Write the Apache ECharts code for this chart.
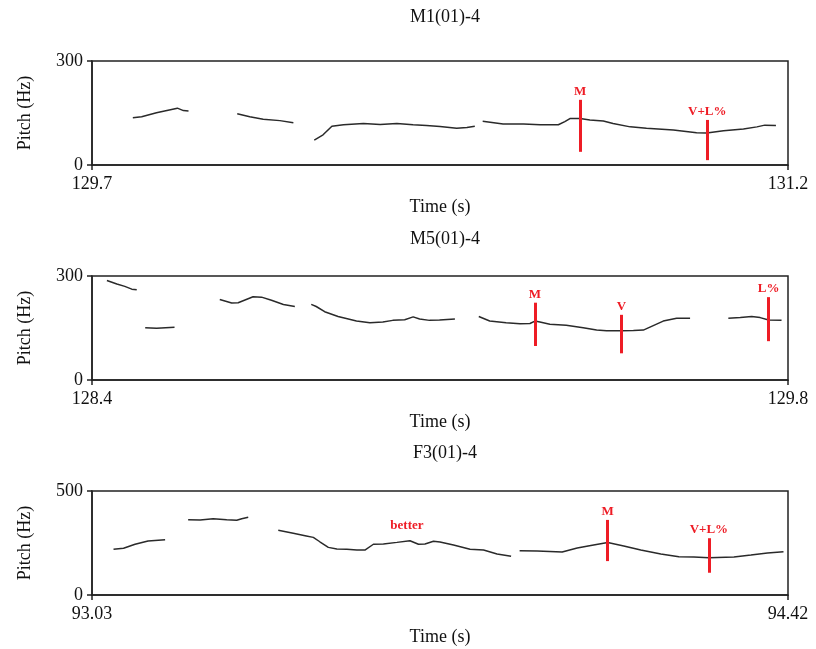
<!DOCTYPE html>
<html>
<head>
<meta charset="utf-8">
<script src="https://cdn.jsdelivr.net/npm/echarts@6/dist/echarts.min.js"></script>
<style>
  html, body { margin: 0; padding: 0; background: #fff; }
  #chart { width: 816px; height: 649px; }
</style>
</head>
<body>
<div id="chart"></div>
<script>
// panel titles and axis ranges
const titles = ["M1(01)-4", "M5(01)-4", "F3(01)-4"];
const timeRanges = [[129.7, 131.2], [128.4, 129.8], [93.03, 94.42]];
const pitchMax = [300, 300, 500];

// pitch contours [time s, pitch Hz], one array per voiced stretch
const m1Seg1 = [[129.788,136],[129.807,139],[129.839,151],[129.884,164],[129.897,157],[129.908,156]];
const m1Seg2 = [[130.013,148],[130.040,139],[130.069,132],[130.105,128],[130.134,122]];
const m1Seg3 = [[130.179,72],[130.198,87],[130.217,112],[130.242,116],[130.285,120],[130.321,117],[130.357,120],[130.392,116],[130.421,114],[130.450,111],[130.486,106],[130.508,108],[130.525,112]];
const m1Seg4 = [[130.542,126],[130.586,118],[130.630,118],[130.666,116],[130.705,116],[130.719,125],[130.730,134],[130.752,134],[130.773,130],[130.802,127],[130.823,120],[130.860,110],[130.895,106],[130.953,101],[131.003,93],[131.025,92],[131.061,99],[131.104,104],[131.133,110],[131.150,115],[131.174,114]];

const m5Seg1 = [[128.430,287],[128.450,277],[128.466,270],[128.480,262],[128.490,260]];
const m5Seg2 = [[128.507,151],[128.530,149],[128.566,152]];
const m5Seg3 = [[128.657,232],[128.681,222],[128.694,223],[128.724,240],[128.741,239],[128.761,230],[128.785,218],[128.808,212]];
const m5Seg4 = [[128.841,218],[128.851,212],[128.868,197],[128.895,183],[128.932,170],[128.959,165],[128.985,167],[129.005,172],[129.029,174],[129.046,182],[129.059,176],[129.079,172],[129.099,173],[129.130,176]];
const m5Seg5 = [[129.178,183],[129.200,170],[129.233,165],[129.261,162],[129.281,163],[129.291,170],[129.301,167],[129.321,161],[129.354,158],[129.388,151],[129.415,144],[129.435,142],[129.465,142],[129.489,143],[129.509,144],[129.529,157],[129.549,170],[129.576,178],[129.603,178]];
const m5Seg6 = [[129.680,178],[129.704,180],[129.727,183],[129.744,180],[129.761,173],[129.787,172]];

const f3Seg1 = [[93.073,220],[93.093,225],[93.116,244],[93.142,260],[93.176,266]];
const f3Seg2 = [[93.222,362],[93.246,361],[93.272,367],[93.299,362],[93.319,359],[93.329,367],[93.342,374]];
const f3Seg3 = [[93.402,311],[93.432,297],[93.458,284],[93.472,277],[93.485,256],[93.502,229],[93.519,221],[93.539,220],[93.559,216],[93.575,216],[93.592,244],[93.612,245],[93.639,253],[93.665,261],[93.682,244],[93.695,245],[93.712,258],[93.725,255],[93.752,240],[93.785,220],[93.812,216],[93.839,197],[93.867,186]];
const f3Seg4 = [[93.884,213],[93.919,212],[93.969,207],[93.999,226],[94.029,239],[94.060,252],[94.092,236],[94.126,216],[94.166,197],[94.202,184],[94.232,183],[94.262,179],[94.312,183],[94.346,192],[94.379,202],[94.411,208]];

const contours = [
  [m1Seg1, m1Seg2, m1Seg3, m1Seg4],
  [m5Seg1, m5Seg2, m5Seg3, m5Seg4, m5Seg5, m5Seg6],
  [f3Seg1, f3Seg2, f3Seg3, f3Seg4]
];

// red annotation lines: label, time, pitch at bottom and top of the line
const m1Marks = [["M", 130.752, 38, 188], ["V+L%", 131.026, 14, 130]];
const m5Marks = [["M", 129.291, 98, 223], ["V", 129.465, 77, 188], ["L%", 129.761, 112, 239]];
const f3Marks = [["M", 94.060, 163, 361], ["V+L%", 94.262, 107, 273]];
const marks = [m1Marks, m5Marks, f3Marks];

// free word label in the F3 panel
const f3Words = [["better", 93.659, 332]];
const words = [[], [], f3Words];

const gridTops = [61, 276, 491];
const titleTops = [3, 225, 439];
const serif = "'Liberation Serif', 'DejaVu Serif', serif";
const red = "#ee1c25";

const chart = echarts.init(document.getElementById("chart"));

const option = {
  animation: false,
  title: [],
  grid: [],
  xAxis: [],
  yAxis: [],
  series: []
};

for (let i = 0; i < 3; i++) {
  option.title.push({
    text: titles[i],
    left: 440,
    textAlign: "center",
    top: titleTops[i],
    textStyle: { fontFamily: serif, fontSize: 18, fontWeight: "normal", color: "#111" }
  });
  option.grid.push({
    left: 92, top: gridTops[i], width: 696, height: 104,
    show: true, borderColor: "#222", borderWidth: 1.5
  });
  option.xAxis.push({
    type: "value", gridIndex: i,
    min: timeRanges[i][0], max: timeRanges[i][1],
    name: "Time (s)", nameLocation: "middle", nameGap: 33,
    nameTextStyle: { fontFamily: serif, fontSize: 18, color: "#111" },
    axisLine: { lineStyle: { color: "#222", width: 1.5 } },
    axisTick: { show: true, length: 5, lineStyle: { color: "#222", width: 1.5 }, customValues: timeRanges[i] },
    axisLabel: { fontFamily: serif, fontSize: 18, color: "#111", margin: 10, customValues: timeRanges[i] },
    splitLine: { show: false }
  });
  option.yAxis.push({
    type: "value", gridIndex: i,
    min: 0, max: pitchMax[i], interval: pitchMax[i],
    name: "Pitch (Hz)", nameLocation: "middle", nameGap: 58,
    nameTextStyle: { fontFamily: serif, fontSize: 18, color: "#111" },
    axisLine: { show: true, lineStyle: { color: "#222", width: 1.5 } },
    axisTick: { show: true, length: 5, lineStyle: { color: "#222", width: 1.5 } },
    axisLabel: { fontFamily: serif, fontSize: 18, color: "#111", margin: 9 },
    splitLine: { show: false }
  });

  contours[i].forEach(function (seg) {
    option.series.push({
      type: "line", xAxisIndex: i, yAxisIndex: i,
      data: seg, showSymbol: false, symbol: "none",
      lineStyle: { color: "#2a2a2a", width: 1.5 },
      silent: true
    });
  });

  // red markers sit on a series of their own
  option.series.push({
    type: "line", xAxisIndex: i, yAxisIndex: i, data: [],
    markLine: {
      silent: true, symbol: ["none", "none"],
      lineStyle: { color: red, width: 3, type: "solid" },
      label: {
        show: true, position: "start", distance: 2,
        formatter: "{b}", color: red, fontFamily: serif, fontSize: 13, fontWeight: "bold"
      },
      data: marks[i].map(function (m) {
        return [{ name: m[0], coord: [m[1], m[3]] }, { coord: [m[1], m[2]] }];
      })
    },
    markPoint: {
      silent: true, symbol: "circle", symbolSize: 0,
      label: { show: true, position: "inside", formatter: "{b}", color: red, fontFamily: serif, fontSize: 13, fontWeight: "bold" },
      data: words[i].map(function (w) {
        return { name: w[0], coord: [w[1], w[2]] };
      })
    }
  });
}

chart.setOption(option);
</script>
</body>
</html>
